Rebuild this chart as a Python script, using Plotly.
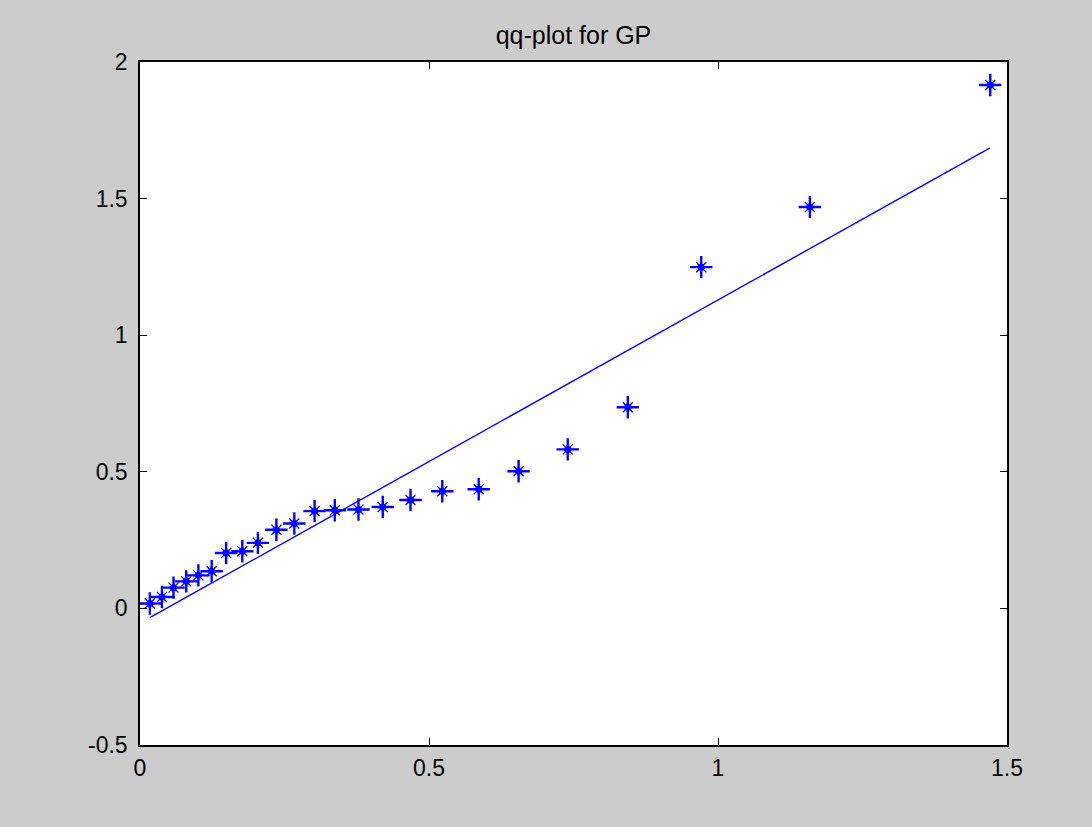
import plotly.graph_objects as go

# Sample quantiles (asterisk markers)
qx = [0.017, 0.038, 0.058, 0.080, 0.101, 0.124, 0.149, 0.177, 0.204, 0.236,
      0.267, 0.302, 0.337, 0.378, 0.420, 0.468, 0.523, 0.586, 0.655, 0.740,
      0.844, 0.971, 1.159, 1.471]
qy = [0.018, 0.042, 0.076, 0.099, 0.121, 0.136, 0.203, 0.209, 0.240, 0.288,
      0.311, 0.356, 0.359, 0.362, 0.371, 0.397, 0.429, 0.436, 0.502, 0.582,
      0.736, 1.249, 1.469, 1.916]

# Reference line
line_x = [0.017, 1.470]
line_y = [-0.034, 1.685]

xticks = [0, 0.5, 1, 1.5]
xticklabels = ["0", "0.5", "1", "1.5"]
yticks = [-0.5, 0, 0.5, 1, 1.5, 2]
yticklabels = ["-0.5", "0", "0.5", "1", "1.5", "2"]

BLUE = "#0000ff"
FONT = "Liberation Sans, Arial, sans-serif"

fig = go.Figure()
fig.add_trace(go.Scatter(x=line_x, y=line_y, mode="lines",
                         line=dict(color=BLUE, width=1.4), showlegend=False,
                         hoverinfo="skip"))
fig.add_trace(go.Scatter(x=qx, y=qy, mode="markers",
                         marker=dict(symbol="cross-thin-open", size=16,
                                     color=BLUE,
                                     line=dict(color=BLUE, width=2.4)),
                         showlegend=False))
fig.add_trace(go.Scatter(x=qx, y=qy, mode="markers",
                         marker=dict(symbol="x-thin-open", size=10,
                                     color=BLUE,
                                     line=dict(color=BLUE, width=1.3)),
                         showlegend=False))
fig.add_trace(go.Scatter(x=qx, y=qy, mode="markers",
                         marker=dict(symbol="circle", size=7, color=BLUE,
                                     line=dict(width=0)),
                         showlegend=False))

axis_common = dict(showgrid=False, zeroline=False, showline=True,
                   linecolor="black", linewidth=1.5, mirror="ticks",
                   ticks="inside", ticklen=7, tickcolor="black",
                   tickfont=dict(family=FONT, size=23, color="black"))

W, H = 1092, 827
L, R, T, B = 140, 85, 62, 82

fig.update_layout(
    width=W, height=H,
    paper_bgcolor="#cccccc", plot_bgcolor="white",
    margin=dict(l=L, r=R, t=T, b=B),
    title=dict(text="qq-plot for GP", x=(L + (W - L - R) / 2) / W,
               xanchor="center", y=1 - 35 / H, yanchor="middle",
               font=dict(family=FONT, size=25, color="black")),
    xaxis=dict(range=[0, 1.5], tickvals=xticks, ticktext=xticklabels,
               ticklabelstandoff=2, **axis_common),
    yaxis=dict(range=[-0.5, 2], tickvals=yticks, ticktext=yticklabels,
               ticklabelstandoff=6, **axis_common),
)

fig.write_html(
    "out.html",
    config={"displayModeBar": False},
    post_script="document.body.style.margin='0';"
                "document.body.style.overflow='hidden';"
                "document.body.style.background='#cccccc';",
)
